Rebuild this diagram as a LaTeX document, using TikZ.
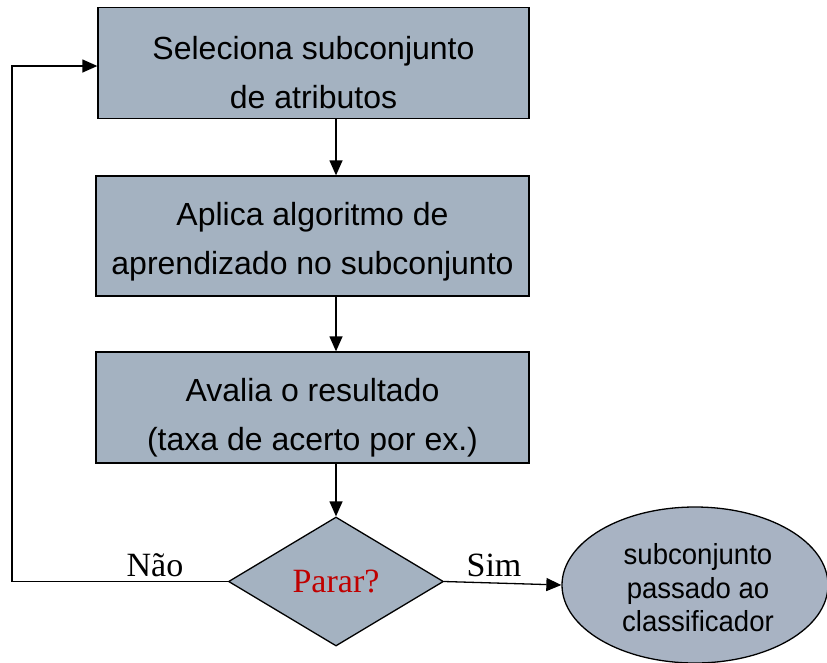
\documentclass[tikz,border=0pt]{standalone}
\usepackage{fontspec}
\usepackage{graphicx}
\setmainfont{Liberation Sans}
\newfontfamily\tms{Liberation Serif}
\usetikzlibrary{shapes.geometric,arrows.meta}
\definecolor{boxfill}{HTML}{A4B2C1}
\definecolor{ellfill}{HTML}{A8B3C3}
\definecolor{stopred}{HTML}{C00000}
\newcommand{\narrowtxt}[1]{\scalebox{0.95}[1]{#1}}
\begin{document}
\begin{tikzpicture}[x=1pt,y=-1pt,
  stepbox/.style={draw=black,line width=1.3pt,fill=boxfill,rectangle,inner sep=0pt},
  steptext/.style={inner sep=0pt,align=center,font=\fontsize{32}{48.5}\selectfont},
  conn/.style={line width=1.3pt,-{Triangle[length=15pt,width=13pt]}},
  lbl/.style={font=\tms\fontsize{34}{40}\selectfont,inner sep=0pt,anchor=base}]
\useasboundingbox (0,0) rectangle (827,662);
\node[stepbox,minimum width=431pt,minimum height=111pt] (b1) at (313.5,63) {};
\node[steptext] (t1) at (313.5,72.5) {Seleciona subconjunto\\de atributos};
\node[stepbox,minimum width=433pt,minimum height=120pt] (b2) at (312.5,236) {};
\node[steptext] (t2) at (312.5,241.5) {Aplica algoritmo de\\aprendizado no subconjunto};
\node[stepbox,minimum width=433pt,minimum height=111pt] (b3) at (312.5,407.5) {};
\node[steptext] (t3) at (312.5,417.5) {Avalia o resultado\\(taxa de acerto por ex.)};
\node[draw=black,line width=1.3pt,fill=boxfill,diamond,aspect=1.667,
  minimum width=215pt,minimum height=129pt,inner sep=0pt] (d) at (336,581.5) {};
\node[lbl,text=stopred] (parar) at (336,592) {Parar?};
\node[draw=black,line width=1.3pt,fill=ellfill,ellipse,minimum width=266pt,
  minimum height=156pt,inner sep=0pt] (e) at (695,585) {};
\node[inner sep=0pt,align=center,font=\fontsize{29}{33.5}\selectfont] (et) at (698,588)
  {\narrowtxt{subconjunto}\\\narrowtxt{passado ao}\\\narrowtxt{classificador}};
\node[lbl] (nao) at (155,576) {Não};
\node[lbl] (sim) at (494,576) {Sim};
\coordinate (c1) at (12,581.5);
\coordinate (c2) at (12,66);
\draw[conn] (b1.south -| d.north) -- (b2.north -| d.north);
\draw[conn] (b2.south -| d.north) -- (b3.north -| d.north);
\draw[conn] (b3.south -| d.north) -- (d.north);
\draw[conn] (d.east) -- (e.west);
\draw[conn] (d.west) -- (c1) -- (c2) -- (c2 -| b1.west);
\end{tikzpicture}
\end{document}
